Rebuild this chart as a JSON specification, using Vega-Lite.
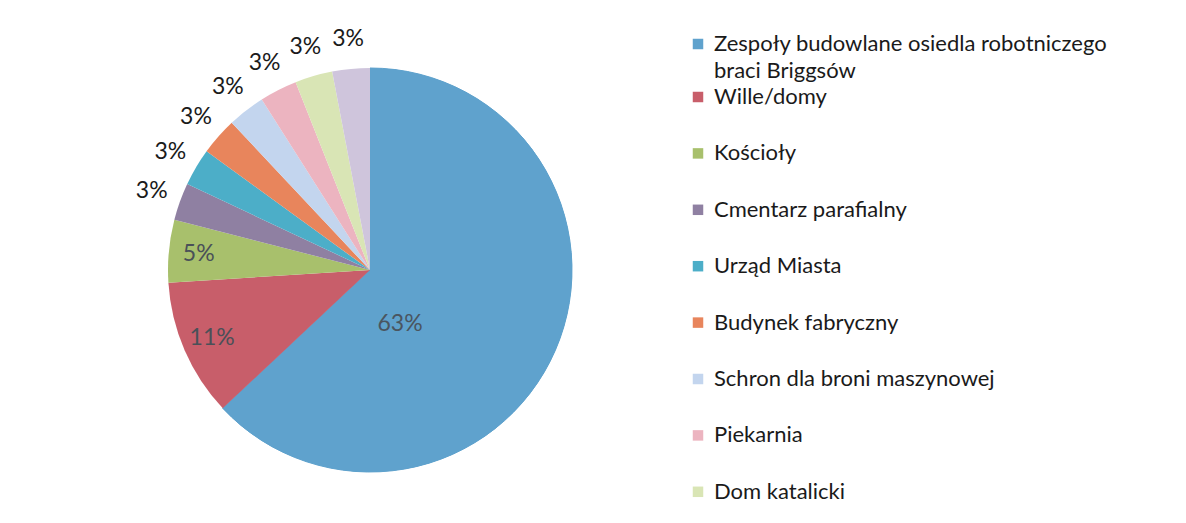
{
  "$schema": "https://vega.github.io/schema/vega-lite/v6.json",
  "width": 700,
  "height": 492,
  "padding": {"left": 20, "top": 24, "right": 0, "bottom": 0},
  "background": "white",
  "config": {"view": {"stroke": null}, "font": "Lato", "style": {"guide-label": {"lineHeight": 27}}},
  "data": {
    "values": [
      {"idx": 1, "category": "Zespoły budowlane osiedla robotniczego braci Briggsów", "value": 63, "label": "63%"},
      {"idx": 2, "category": "Wille/domy", "value": 11, "label": "11%"},
      {"idx": 3, "category": "Kościoły", "value": 5, "label": "5%"},
      {"idx": 4, "category": "Cmentarz parafialny", "value": 3, "label": "3%"},
      {"idx": 5, "category": "Urząd Miasta", "value": 3, "label": "3%"},
      {"idx": 6, "category": "Budynek fabryczny", "value": 3, "label": "3%"},
      {"idx": 7, "category": "Schron dla broni maszynowej", "value": 3, "label": "3%"},
      {"idx": 8, "category": "Piekarnia", "value": 3, "label": "3%"},
      {"idx": 9, "category": "Dom katalicki", "value": 3, "label": "3%"},
      {"idx": 10, "category": "Inne", "value": 3, "label": "3%"}
    ]
  },
  "encoding": {
    "theta": {"field": "value", "type": "quantitative", "stack": true},
    "order": {"field": "idx", "type": "quantitative"}
  },
  "layer": [
    {
      "transform": [{"filter": "datum.idx == 1"}],
      "mark": {"type": "arc", "outerRadius": 202, "fill": "#5fa2cd"},
      "encoding": {
        "stroke": {
          "field": "category",
          "type": "nominal",
          "scale": {"domain": ["Zespoły budowlane osiedla robotniczego braci Briggsów"], "range": ["#5fa2cd"]},
          "legend": {
            "orient": "none",
            "legendX": 667,
            "legendY": 9,
            "title": null,
            "padding": 0,
            "symbolType": "square",
            "symbolSize": 110,
            "symbolFillColor": "#5fa2cd",
            "symbolStrokeWidth": 0,
            "labelFont": "Lato",
            "labelFontSize": 22,
            "labelColor": "#1a1a1a",
            "labelLimit": 600,
            "labelOffset": 5,
            "labelExpr": "['Zespoły budowlane osiedla robotniczego', 'braci Briggsów']",
            "encode": {"labels": {"update": {"lineHeight": {"value": 27}}}}
          }
        }
      }
    },
    {
      "mark": {"type": "arc", "outerRadius": 202},
      "encoding": {
        "color": {
          "field": "category",
          "type": "nominal",
          "sort": null,
          "scale": {
            "domain": ["Zespoły budowlane osiedla robotniczego braci Briggsów", "Wille/domy", "Kościoły", "Cmentarz parafialny", "Urząd Miasta", "Budynek fabryczny", "Schron dla broni maszynowej", "Piekarnia", "Dom katalicki", "Inne"],
            "range": ["#5fa2cd", "#c85e6a", "#a8c06c", "#8f80a2", "#4caec8", "#e8855c", "#c3d5ee", "#ecb4c0", "#d9e5b5", "#cfc5dc"]
          },
          "legend": {
            "orient": "none",
            "legendX": 667,
            "legendY": 62,
            "title": null,
            "padding": 0,
            "values": ["Wille/domy", "Kościoły", "Cmentarz parafialny", "Urząd Miasta", "Budynek fabryczny", "Schron dla broni maszynowej", "Piekarnia", "Dom katalicki"],
            "symbolType": "square",
            "symbolSize": 110,
            "symbolStrokeWidth": 0,
            "labelFont": "Lato",
            "labelFontSize": 22,
            "labelColor": "#1a1a1a",
            "labelLimit": 600,
            "labelOffset": 5,
            "rowPadding": 34.4
          }
        }
      }
    },
    {
      "mark": {"type": "text", "radius": 60, "fontSize": 23, "color": "#4a5560", "dx": -25, "dy": 30},
      "encoding": {
        "text": {"condition": {"test": "datum.value > 50", "field": "label"}, "value": ""}
      }
    },
    {
      "mark": {"type": "text", "radius": 172, "fontSize": 23, "color": "#4a5058"},
      "encoding": {
        "text": {"condition": {"test": "datum.value >= 5 && datum.value <= 50", "field": "label"}, "value": ""}
      }
    },
    {
      "mark": {"type": "text", "radius": 232, "fontSize": 23, "color": "#1a1a1a"},
      "encoding": {
        "text": {"condition": {"test": "datum.value < 5", "field": "label"}, "value": ""}
      }
    }
  ]
}
